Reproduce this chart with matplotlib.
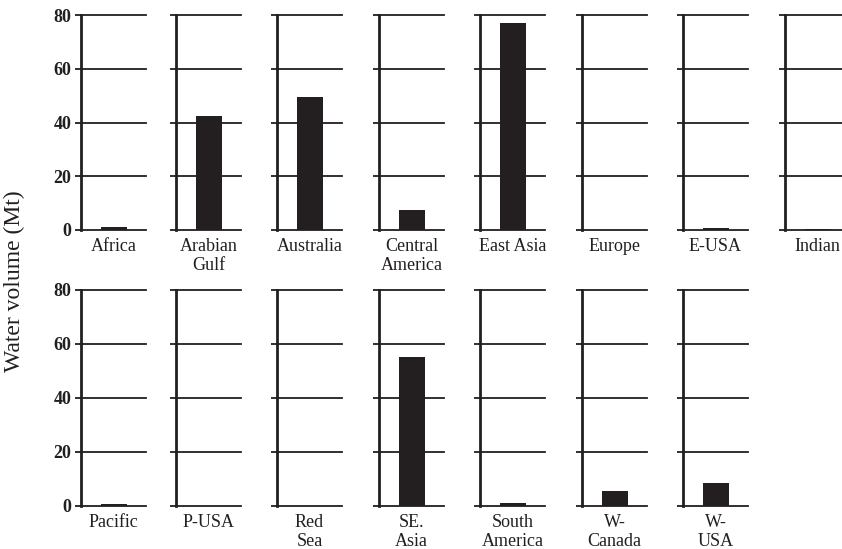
import matplotlib.pyplot as plt

plt.rcParams['font.family'] = ['Liberation Serif', 'DejaVu Serif']

regions = ['Africa', 'Arabian\nGulf', 'Australia', 'Central\nAmerica', 'East Asia',
           'Europe', 'E-USA', 'Indian',
           'Pacific', 'P-USA', 'Red\nSea', 'SE.\nAsia', 'South\nAmerica', 'W-\nCanada', 'W-\nUSA']
volume = [1.0, 42.5, 49.5, 7.5, 77.0,
          0.0, 0.7, 0.3,
          0.6, 0.0, 0.0, 55.3, 1.2, 5.4, 8.4]
yticks = [0, 20, 40, 60, 80]

ink = '#231f20'
W, H = 842, 549
fig = plt.figure(figsize=(W / 100, H / 100), dpi=100)

# panel left edges (px) and row extents (top, bottom px)
col_x = [81, 176, 277, 379, 480, 582, 683, 785]
rows = [(15, 230), (290, 506)]
panel_w = 65

for i, (name, val) in enumerate(zip(regions, volume)):
    r, c = divmod(i, 8)
    top, bot = rows[r]
    ax = fig.add_axes([col_x[c] / W, 1 - bot / H, panel_w / W, (bot - top) / H])
    ax.bar([0], [val], width=0.4, color=ink, zorder=2)
    ax.set_xlim(-0.5, 0.5)
    ax.set_ylim(0, 80)
    ax.set_yticks(yticks)
    ax.set_axisbelow(True)
    ax.yaxis.grid(True, color=ink, lw=1.3)
    for gl in ax.get_ygridlines():
        gl.set_clip_on(False)
    for s in ['top', 'right', 'bottom']:
        ax.spines[s].set_visible(False)
    ax.spines['left'].set_linewidth(2)
    ax.spines['left'].set_color(ink)
    ax.tick_params(axis='y', direction='out', length=4, width=1.3, color=ink, pad=3)
    ax.set_xticks([0])
    ax.set_xticklabels([name], fontsize=13, color=ink, linespacing=1.1)
    ax.tick_params(axis='x', length=0, pad=6)
    if c == 0:
        ax.set_yticklabels([str(t) for t in yticks], fontsize=13, fontweight='bold', color=ink)
    else:
        ax.set_yticklabels([])

fig.text(14 / W, 1 - 281 / H, 'Water volume (Mt)', rotation=90, ha='center', va='center',
         fontsize=17, color=ink)

plt.savefig('out.png', dpi=100)
